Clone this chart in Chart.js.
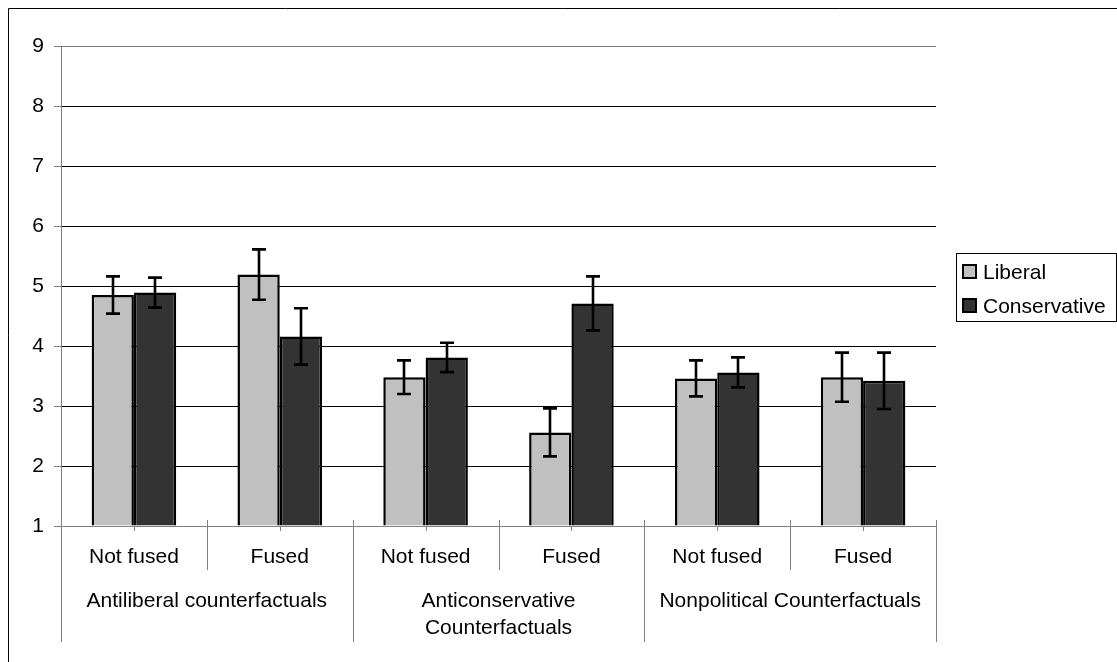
<!DOCTYPE html>
<html>
<head>
<meta charset="utf-8">
<script src="https://cdn.jsdelivr.net/npm/chart.js@4.4.0/dist/chart.umd.min.js"></script>
<style>
  body { margin: 0; background: #fff; }
  #wrap { width: 1117px; height: 662px; }
</style>
</head>
<body>
<div id="wrap"><canvas id="chart" width="1117" height="662"></canvas></div>
<script>
// categories and groups (two-level x axis)
const categories = ['Not fused', 'Fused', 'Not fused', 'Fused', 'Not fused', 'Fused'];
const groupLabels = [['Antiliberal counterfactuals'], ['Anticonservative', 'Counterfactuals'], ['Nonpolitical Counterfactuals']];
const groupSize = 2;

// series means and error bar half-widths
const liberal = [4.85, 5.19, 3.48, 2.56, 3.46, 3.48];
const conservative = [4.89, 4.16, 3.81, 4.71, 3.56, 3.42];
const liberalErr = [0.31, 0.42, 0.28, 0.40, 0.30, 0.41];
const conservativeErr = [0.25, 0.47, 0.245, 0.45, 0.25, 0.47];

const yTicks = [1, 2, 3, 4, 5, 6, 7, 8, 9];

const FONT = '21px "Liberation Sans", Arial, sans-serif';
const errors = [liberalErr, conservativeErr];

// error bars drawn on top of the bars
const errorBarPlugin = {
    id: 'errorBars',
    afterDatasetsDraw(chart) {
        const ctx = chart.ctx;
        const y = chart.scales.y;
        ctx.save();
        ctx.strokeStyle = '#000';
        ctx.lineWidth = 2.6;
        chart.data.datasets.forEach((ds, di) => {
            const meta = chart.getDatasetMeta(di);
            meta.data.forEach((bar, i) => {
                const v = ds.data[i];
                const e = errors[di][i];
                const top = y.getPixelForValue(v + e);
                const bot = y.getPixelForValue(v - e);
                const x = Math.round(bar.x);
                ctx.beginPath();
                ctx.moveTo(x, top); ctx.lineTo(x, bot);
                ctx.moveTo(x - 7, top); ctx.lineTo(x + 7, top);
                ctx.moveTo(x - 7, bot); ctx.lineTo(x + 7, bot);
                ctx.stroke();
            });
        });
        ctx.restore();
    }
};

// two-level category labels, separators, legend and outer frame
const decorPlugin = {
    id: 'decor',
    afterDraw(chart) {
        const ctx = chart.ctx;
        const xs = chart.scales.x;
        const area = chart.chartArea;
        const base = area.bottom;
        const step = xs.getPixelForValue(1) - xs.getPixelForValue(0);
        ctx.save();
        ctx.font = FONT;
        ctx.fillStyle = '#000';
        ctx.textAlign = 'center';
        ctx.textBaseline = 'middle';

        // small ticks at category centers
        ctx.strokeStyle = '#808080';
        ctx.lineWidth = 1;
        categories.forEach((c, i) => {
            const x = Math.round(xs.getPixelForValue(i)) + 0.5;
            ctx.beginPath(); ctx.moveTo(x, base); ctx.lineTo(x, base + 5); ctx.stroke();
            ctx.fillText(c, xs.getPixelForValue(i), base + 31);
        });

        // separators
        for (let i = 0; i <= categories.length; i++) {
            const x = Math.round(xs.getPixelForValue(i) - step / 2) + 0.5;
            const isGroup = i % groupSize === 0;
            ctx.beginPath();
            ctx.moveTo(x, base - 6);
            ctx.lineTo(x, base + (isGroup ? 116 : 44));
            ctx.stroke();
        }

        // group labels
        groupLabels.forEach((lines, g) => {
            const cx = (xs.getPixelForValue(g * groupSize) + xs.getPixelForValue(g * groupSize + groupSize - 1)) / 2;
            lines.forEach((t, k) => ctx.fillText(t, cx, base + 75 + k * 27));
        });

        // legend
        const lx = 956, ly = 253, lw = 160, lh = 68;
        ctx.strokeStyle = '#000';
        ctx.strokeRect(lx + 0.5, ly + 0.5, lw, lh);
        ctx.textAlign = 'left';
        chart.data.datasets.forEach((ds, i) => {
            const cy = ly + 19 + i * 34;
            ctx.fillStyle = ds.backgroundColor;
            ctx.fillRect(lx + 7, cy - 7, 13, 13);
            ctx.lineWidth = 2;
            ctx.strokeStyle = '#000';
            ctx.strokeRect(lx + 7, cy - 7, 13, 13);
            ctx.fillStyle = '#000';
            ctx.fillText(ds.label, lx + 27, cy + 1);
        });

        // outer frame
        ctx.lineWidth = 1;
        ctx.strokeStyle = '#000';
        ctx.beginPath();
        ctx.moveTo(8.5, 662); ctx.lineTo(8.5, 8.5); ctx.lineTo(1117, 8.5);
        ctx.stroke();
        ctx.restore();
    }
};

new Chart(document.getElementById('chart'), {
    type: 'bar',
    data: {
        labels: categories,
        datasets: [
            { label: 'Liberal', data: liberal, backgroundColor: '#c0c0c0', borderColor: '#000', borderWidth: 2.5, base: 1 },
            { label: 'Conservative', data: conservative, backgroundColor: '#333333', borderColor: '#000', borderWidth: 2.5, base: 1 }
        ]
    },
    options: {
        responsive: false,
        animation: false,
        datasets: { bar: { categoryPercentage: 0.58, barPercentage: 1.0 } },
        layout: { padding: { left: 0, top: 46, right: 181, bottom: 136 } },
        plugins: { legend: { display: false }, tooltip: { enabled: false } },
        scales: {
            x: {
                grid: { display: false },
                ticks: { display: false },
                border: { display: true, color: '#808080', width: 1 },
                afterFit: (s) => { s.height = 0; }
            },
            y: {
                min: yTicks[0],
                max: yTicks[yTicks.length - 1],
                afterBuildTicks: (s) => { s.ticks = yTicks.map(v => ({ value: v })); },
                afterFit: (s) => { s.width = 61; },
                ticks: {
                    color: '#000',
                    padding: 10,
                    font: { family: '"Liberation Sans", Arial, sans-serif', size: 21 }
                },
                grid: {
                    color: (c) => c.tick && c.tick.value === 1 ? 'rgba(0,0,0,0)' : (c.tick && c.tick.value === 9 ? '#808080' : '#000'),
                    tickColor: '#808080',
                    tickLength: 7,
                    lineWidth: 1
                },
                border: { display: true, color: '#808080', width: 1 }
            }
        }
    },
    plugins: [errorBarPlugin, decorPlugin]
});
</script>
</body>
</html>
